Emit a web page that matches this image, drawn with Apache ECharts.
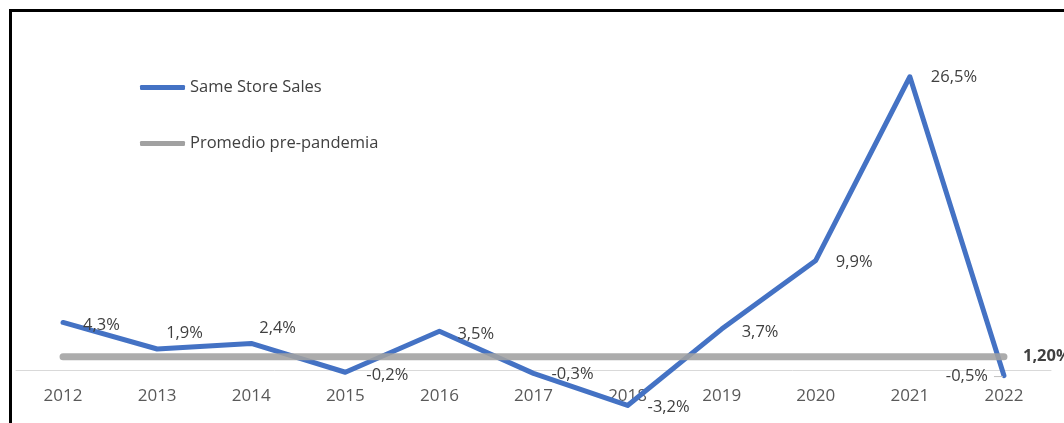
<!DOCTYPE html>
<html>
<head>
<meta charset="utf-8">
<title>Same Store Sales</title>
<script src="https://cdn.jsdelivr.net/npm/echarts@6/dist/echarts.min.js"></script>
<style>
  html, body { margin: 0; padding: 0; background: #ffffff; }
  #chart { width: 1064px; height: 423px; }
</style>
</head>
<body>
<div id="chart"></div>
<script>
// Years on the category axis
const years = ['2012', '2013', '2014', '2015', '2016', '2017', '2018', '2019', '2020', '2021', '2022'];
// Same Store Sales, % change per year
const sameStoreSales = [4.3, 1.9, 2.4, -0.2, 3.5, -0.3, -3.2, 3.7, 9.9, 26.5, -0.5];
// Pre-pandemic average, drawn as a flat reference line
const prePandemicAvg = [1.2, 1.2, 1.2, 1.2, 1.2, 1.2, 1.2, 1.2, 1.2, 1.2, 1.2];

const seriesNames = ['Same Store Sales', 'Promedio pre-pandemia'];

// Label placement next to each point of the sales line: [dx, dy]
const labelOffsets = [
  [15, 3], [4, -16], [3, -15], [16, 3], [13, 3], [13, 1],
  [15, 2], [15, 3], [15, 2], [16, 1], [4, 1]
];

const FONT = "'Open Sans', sans-serif";
const BLUE = '#4472C4';
const GREY = '#A1A1A1';

function pct(v, digits) {
  return v.toFixed(digits).replace('.', ',') + '%';
}

const salesData = sameStoreSales.map(function (v, i) {
  const last = i === sameStoreSales.length - 1;
  return {
    value: v,
    label: {
      show: true,
      position: last ? 'left' : 'right',
      offset: labelOffsets[i],
      formatter: last
        ? function (p) { return '{v|' + pct(p.value, 1) + '}{g|}{d|}'; }
        : function (p) { return pct(p.value, 1); }
    }
  };
});

const avgData = prePandemicAvg.map(function (v, i) {
  const last = i === prePandemicAvg.length - 1;
  return {
    value: v,
    label: {
      show: last,
      position: 'right',
      offset: [14, 0],
      fontWeight: 'bold',
      formatter: function (p) { return pct(p.value, 2); }
    }
  };
});

const chart = echarts.init(document.getElementById('chart'), null, { renderer: 'canvas' });

const legendText = { fontFamily: FONT, fontSize: 16.5, color: '#404040' };

chart.setOption({
  animation: false,
  backgroundColor: '#ffffff',
  textStyle: { fontFamily: FONT },
  // The plot's lower edge sits just under zero so the year labels hug the zero line;
  // negative values are drawn past it with clipping off.
  grid: { left: 16, right: 13, top: 38, height: 342, outerBoundsMode: 'none', containLabel: false },
  legend: [
    {
      data: [seriesNames[0]],
      left: 140, top: 79, padding: 0,
      icon: 'roundRect', itemWidth: 45, itemHeight: 5, itemGap: 0,
      textStyle: legendText
    },
    {
      data: [seriesNames[1]],
      left: 140, top: 135, padding: 0,
      icon: 'roundRect', itemWidth: 45, itemHeight: 5, itemGap: 0,
      textStyle: legendText
    }
  ],
  xAxis: {
    type: 'category',
    data: years,
    boundaryGap: true,
    axisLine: { onZero: true, lineStyle: { color: '#D9D9D9', width: 1 } },
    axisTick: { show: false },
    axisLabel: { margin: 8, fontFamily: FONT, fontSize: 17, color: '#595959' },
    splitLine: { show: false }
  },
  yAxis: {
    type: 'value',
    min: -0.9, max: 30,
    show: false,
    splitLine: { show: false }
  },
  graphic: [
    {
      type: 'rect',
      left: 8, top: 8,
      shape: { width: 1200, height: 600 },
      style: { fill: 'none', stroke: '#000000', lineWidth: 3 },
      z: 100,
      silent: true
    }
  ],
  series: [
    {
      name: seriesNames[0],
      type: 'line',
      data: salesData,
      clip: false,
      showSymbol: true,
      symbol: 'circle',
      symbolSize: 0,
      lineStyle: { color: BLUE, width: 5, cap: 'round', join: 'round' },
      itemStyle: { color: BLUE },
      label: {
        fontFamily: FONT, fontSize: 16.5, color: '#404040',
        rich: {
          v: { fontFamily: FONT, fontSize: 16.5, color: '#404040' },
          g: { width: 6, height: 1 },
          d: { width: 9, height: 1, backgroundColor: '#BFBFBF' }
        }
      },
      z: 2
    },
    {
      name: seriesNames[1],
      type: 'line',
      data: avgData,
      clip: false,
      showSymbol: true,
      symbol: 'circle',
      symbolSize: 0,
      lineStyle: { color: GREY, width: 7, opacity: 0.88, cap: 'round' },
      itemStyle: { color: GREY },
      label: { fontFamily: FONT, fontSize: 16.5, color: '#404040' },
      z: 3
    }
  ]
});
</script>
</body>
</html>
